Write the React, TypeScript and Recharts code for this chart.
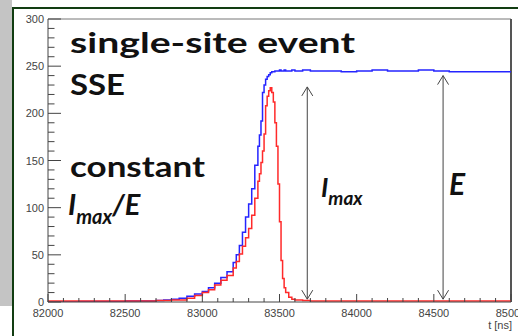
import React from "react";
import { LineChart, Line, XAxis, YAxis, ReferenceLine } from "recharts";

const TIMES = [
  82000, 82100, 82200, 82300, 82400, 82500, 82600, 82700, 82750, 82800,
  82850, 82900, 82950, 83000, 83040, 83080, 83120, 83160, 83200, 83220,
  83240, 83260, 83280, 83300, 83320, 83340, 83360, 83370, 83380, 83390,
  83400, 83410, 83420, 83430, 83440, 83450, 83460, 83470, 83480, 83490,
  83500, 83510, 83520, 83530, 83540, 83560, 83580, 83600, 83650, 83700,
  83800, 83900, 84000, 84100, 84200, 84300, 84400, 84500, 84600, 84700,
  84800, 84900, 85000,
];

const BLUE = [
  0, 0, 0.5, 0.5, 0.5, 1, 1, 1.5, 2, 3,
  4, 6, 8.5, 11, 15, 20, 26, 32, 42, 50,
  60, 74, 90, 104, 120, 145, 165, 177, 192, 222,
  230, 236, 239, 241, 243, 244, 244, 245, 245, 245,
  246, 245, 245, 246, 245, 245, 246, 245, 246, 245,
  245, 244, 245, 246, 245, 245, 246, 245, 244, 244,
  244, 244, 244,
];

const RED = [
  1, 1, 1, 1, 1, 1, 1, 1.5, 1.5, 2,
  2, 4, 7, 10, 13, 18, 23, 28, 36, 43,
  51, 59, 68, 78, 92, 110, 128, 136, 148, 160,
  178, 208, 218, 224, 227, 222, 212, 190, 165, 125,
  85, 44, 25, 15, 10, 5, 3, 2, 1.5, 1,
  1, 1, 1, 1, 1, 1, 1, 1, 1, 1,
  1, 1, 1.5,
];

const X_MAJOR = [82000, 82500, 83000, 83500, 84000, 84500, 85000];
const Y_MAJOR = [0, 50, 100, 150, 200, 250, 300];
const X_MINOR_STEP = 100;
const Y_MINOR_STEP = 10;

// arrows: [time, bottom value, top value]
const ARROW_IMAX = { t: 83680, lo: 3, hi: 228 };
const ARROW_E = { t: 84560, lo: 3, hi: 240 };

const data = TIMES.map((t, i) => ({ t, blue: BLUE[i], red: RED[i] }));

const xTicks: number[] = [];
for (let v = X_MAJOR[0]; v <= X_MAJOR[X_MAJOR.length - 1]; v += X_MINOR_STEP) xTicks.push(v);
const yTicks: number[] = [];
for (let v = Y_MAJOR[0]; v <= Y_MAJOR[Y_MAJOR.length - 1]; v += Y_MINOR_STEP) yTicks.push(v);

const TICK_FONT = "'Liberation Sans', Arial, sans-serif";
const TXT_FONT = "Lato, 'Open Sans', sans-serif";

const YTick = (props: any) => {
  const { x, y, payload } = props;
  const v = payload.value;
  const major = Y_MAJOR.includes(v);
  return (
    <g>
      <line x1={x} x2={x + (major ? 13 : 6.5)} y1={y} y2={y} stroke="#444" strokeWidth={1} />
      {major && (
        <text x={x - 4} y={y + 4} textAnchor="end" fontFamily={TICK_FONT} fontSize={11} fill="#444">
          {v}
        </text>
      )}
    </g>
  );
};

const XTick = (props: any) => {
  const { x, y, payload } = props;
  const v = payload.value;
  const major = X_MAJOR.includes(v);
  return (
    <g>
      <line x1={x} x2={x} y1={y} y2={y - (major ? 8 : 4)} stroke="#444" strokeWidth={1} />
      {major && (
        <text x={x} y={y + 14.5} textAnchor="middle" fontFamily={TICK_FONT} fontSize={11} fill="#444">
          {v}
        </text>
      )}
    </g>
  );
};

const ArrowShape = (props: any) => {
  const { x1, y1, x2, y2 } = props;
  const x = (x1 + x2) / 2;
  const top = Math.min(y1, y2);
  const bot = Math.max(y1, y2);
  const w = 5.5;
  const h = 9;
  return (
    <g stroke="#444" strokeWidth={1} fill="none">
      <line x1={x} x2={x} y1={top} y2={bot} />
      <polyline points={`${x - w},${top + h} ${x},${top} ${x + w},${top + h}`} />
      <polyline points={`${x - w},${bot - h} ${x},${bot} ${x + w},${bot - h}`} />
    </g>
  );
};

export default function App() {
  return (
    <div
      style={{
        position: "fixed",
        left: 0,
        top: 0,
        width: 518,
        height: 336,
        background: "#ffffff",
        overflow: "hidden",
      }}
    >
      <div style={{ position: "absolute", left: 0, top: 0, width: 12, height: 306, background: "#c4c4c4" }} />
      <div style={{ position: "absolute", left: 12, top: 7, width: 2, height: 329, background: "#123d12" }} />
      <div style={{ position: "absolute", left: 12, top: 7, width: 506, height: 2, background: "#123d12" }} />
      <div style={{ position: "absolute", left: 0, top: 0 }}>
        <LineChart width={518} height={336} data={data} margin={{ top: 19, right: 7, bottom: 4, left: 0 }}>
          <XAxis
            dataKey="t"
            type="number"
            domain={[82000, 85000]}
            ticks={xTicks}
            interval={0}
            tickSize={0}
            tickMargin={0}
            height={30}
            axisLine={{ stroke: "#444" }}
            tickLine={false}
            tick={<XTick />}
            allowDataOverflow
          />
          <YAxis
            type="number"
            domain={[0, 300]}
            ticks={yTicks}
            interval={0}
            tickSize={0}
            tickMargin={0}
            width={48}
            axisLine={{ stroke: "#444" }}
            tickLine={false}
            tick={<YTick />}
            allowDataOverflow
          />
          <ReferenceLine y={300} stroke="#777" strokeWidth={1} />
          <ReferenceLine x={85000} stroke="#555" strokeWidth={2} />
          <ReferenceLine
            segment={[{ x: ARROW_IMAX.t, y: ARROW_IMAX.lo }, { x: ARROW_IMAX.t, y: ARROW_IMAX.hi }]}
            shape={ArrowShape}
          />
          <ReferenceLine
            segment={[{ x: ARROW_E.t, y: ARROW_E.lo }, { x: ARROW_E.t, y: ARROW_E.hi }]}
            shape={ArrowShape}
          />
          <Line
            type="stepAfter"
            dataKey="blue"
            stroke="#2424ff"
            strokeWidth={1.5}
            dot={false}
            isAnimationActive={false}
          />
          <Line
            type="stepAfter"
            dataKey="red"
            stroke="#ff2a2a"
            strokeWidth={1.5}
            dot={false}
            isAnimationActive={false}
          />
        </LineChart>
      </div>
      <svg
        width={518}
        height={336}
        style={{ position: "absolute", left: 0, top: 0, pointerEvents: "none" }}
      >
        <g fontFamily={TXT_FONT} fontWeight={700} fill="#111">
          <text x={70} y={53} fontSize={29} textLength={285} lengthAdjust="spacingAndGlyphs">
            single-site event
          </text>
          <text x={70} y={95} fontSize={29} textLength={55} lengthAdjust="spacingAndGlyphs">
            SSE
          </text>
          <text x={70} y={177} fontSize={29} textLength={135} lengthAdjust="spacingAndGlyphs">
            constant
          </text>
          <text x={68} y={215} fontSize={29} fontStyle="italic">
            I
            <tspan fontSize={20} dy={9} fontStyle="italic">max</tspan>
            <tspan dy={-9} fontStyle="italic">/E</tspan>
          </text>
          <text x={321} y={197} fontSize={26} fontStyle="italic">
            I
            <tspan fontSize={19} dy={8} fontStyle="italic">max</tspan>
          </text>
          <text x={449} y={195} fontSize={30} fontStyle="italic">
            E
          </text>
        </g>
        <text x={512} y={329} textAnchor="end" fontFamily={TICK_FONT} fontSize={11} fill="#444">
          t [ns]
        </text>
      </svg>
    </div>
  );
}
